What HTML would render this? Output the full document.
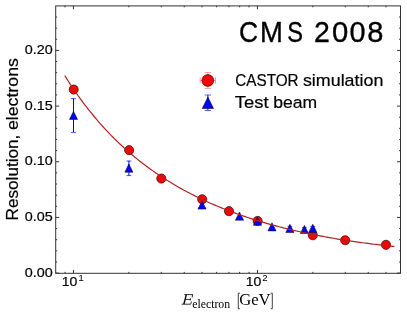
<!DOCTYPE html><html><head><meta charset="utf-8"><style>html,body{margin:0;padding:0;background:#fff;width:407px;height:315px;overflow:hidden}svg{display:block;will-change:transform}text{font-family:"Liberation Sans",sans-serif;fill:#000}.s{font-family:"Liberation Serif",serif}</style></head><body>
<svg width="407" height="315" viewBox="0 0 407 315">
<rect x="55.7" y="5.9" width="344.8" height="267.40000000000003" fill="none" stroke="#333" stroke-width="1"/>
<path d="M73.45 273.3v-3.4M73.45 5.9v3.4M257.45 273.3v-3.4M257.45 5.9v3.4M65.03 273.3v-1.4M65.03 5.9v1.4M128.84 273.3v-1.4M128.84 5.9v1.4M161.24 273.3v-1.4M161.24 5.9v1.4M184.23 273.3v-1.4M184.23 5.9v1.4M202.06 273.3v-1.4M202.06 5.9v1.4M216.63 273.3v-1.4M216.63 5.9v1.4M228.95 273.3v-1.4M228.95 5.9v1.4M239.62 273.3v-1.4M239.62 5.9v1.4M249.03 273.3v-1.4M249.03 5.9v1.4M312.84 273.3v-1.4M312.84 5.9v1.4M345.24 273.3v-1.4M345.24 5.9v1.4M368.23 273.3v-1.4M368.23 5.9v1.4M386.06 273.3v-1.4M386.06 5.9v1.4M55.7 273.10h3.4M400.5 273.10h-3.4M55.7 261.97h1.4M400.5 261.97h-1.4M55.7 250.83h1.4M400.5 250.83h-1.4M55.7 239.70h1.4M400.5 239.70h-1.4M55.7 228.56h1.4M400.5 228.56h-1.4M55.7 217.43h3.4M400.5 217.43h-3.4M55.7 206.29h1.4M400.5 206.29h-1.4M55.7 195.16h1.4M400.5 195.16h-1.4M55.7 184.02h1.4M400.5 184.02h-1.4M55.7 172.89h1.4M400.5 172.89h-1.4M55.7 161.75h3.4M400.5 161.75h-3.4M55.7 150.62h1.4M400.5 150.62h-1.4M55.7 139.48h1.4M400.5 139.48h-1.4M55.7 128.35h1.4M400.5 128.35h-1.4M55.7 117.21h1.4M400.5 117.21h-1.4M55.7 106.08h3.4M400.5 106.08h-3.4M55.7 94.94h1.4M400.5 94.94h-1.4M55.7 83.81h1.4M400.5 83.81h-1.4M55.7 72.67h1.4M400.5 72.67h-1.4M55.7 61.54h1.4M400.5 61.54h-1.4M55.7 50.40h3.4M400.5 50.40h-3.4M55.7 39.27h1.4M400.5 39.27h-1.4M55.7 28.13h1.4M400.5 28.13h-1.4M55.7 17.00h1.4M400.5 17.00h-1.4" stroke="#333" stroke-width="1" fill="none"/>
<circle cx="73.70" cy="89.55" r="4.6" fill="#f00" stroke="#000" stroke-width="0.6"/>
<circle cx="129.15" cy="150.15" r="4.6" fill="#f00" stroke="#000" stroke-width="0.6"/>
<circle cx="161.30" cy="178.55" r="4.6" fill="#f00" stroke="#000" stroke-width="0.6"/>
<circle cx="202.20" cy="199.25" r="4.6" fill="#f00" stroke="#000" stroke-width="0.6"/>
<circle cx="229.00" cy="211.15" r="4.6" fill="#f00" stroke="#000" stroke-width="0.6"/>
<circle cx="257.60" cy="220.95" r="4.6" fill="#f00" stroke="#000" stroke-width="0.6"/>
<circle cx="312.80" cy="235.25" r="4.6" fill="#f00" stroke="#000" stroke-width="0.6"/>
<circle cx="345.20" cy="240.25" r="4.6" fill="#f00" stroke="#000" stroke-width="0.6"/>
<circle cx="386.00" cy="244.85" r="4.6" fill="#f00" stroke="#000" stroke-width="0.6"/>
<path d="M73.5 98.45V132.15M128.9 160.83V175.37M289.9 226.10V230.70M304.4 227.50V231.50M312.8 226.20V230.40" stroke="#00f" stroke-width="1" fill="none"/>
<path d="M71.1 98.65h4.8M71.1 132.35h4.8M126.5 161.03h4.8M126.5 175.57h4.8M287.5 226.30h4.8M287.5 230.90h4.8M302.0 227.70h4.8M302.0 231.70h4.8M310.40000000000003 226.40h4.8M310.40000000000003 230.60h4.8" stroke="#00f" stroke-opacity="0.7" stroke-width="1" fill="none"/>
<path d="M73.5 111.20L77.60 119.40L69.40 119.40Z" fill="#00f" stroke="#000" stroke-width="0.5"/>
<path d="M128.9 164.00L133.00 172.20L124.80 172.20Z" fill="#00f" stroke="#000" stroke-width="0.5"/>
<path d="M202.0 200.90L206.10 209.10L197.90 209.10Z" fill="#00f" stroke="#000" stroke-width="0.5"/>
<path d="M239.5 212.00L243.60 220.20L235.40 220.20Z" fill="#00f" stroke="#000" stroke-width="0.5"/>
<path d="M257.5 217.10L261.60 225.30L253.40 225.30Z" fill="#00f" stroke="#000" stroke-width="0.5"/>
<path d="M272.0 222.70L276.10 230.90L267.90 230.90Z" fill="#00f" stroke="#000" stroke-width="0.5"/>
<path d="M289.9 224.30L294.00 232.50L285.80 232.50Z" fill="#00f" stroke="#000" stroke-width="0.5"/>
<path d="M304.4 225.40L308.50 233.60L300.30 233.60Z" fill="#00f" stroke="#000" stroke-width="0.5"/>
<path d="M312.8 224.20L316.90 232.40L308.70 232.40Z" fill="#00f" stroke="#000" stroke-width="0.5"/>
<polyline points="64.73,75.54 66.39,78.18 68.04,80.78 69.70,83.34 71.35,85.85 73.01,88.32 74.67,90.75 76.32,93.15 77.98,95.50 79.63,97.81 81.29,100.08 82.95,102.32 84.60,104.52 86.26,106.69 87.91,108.82 89.57,110.91 91.23,112.97 92.88,115.00 94.54,117.00 96.19,118.97 97.85,120.90 99.51,122.80 101.16,124.68 102.82,126.52 104.47,128.34 106.13,130.12 107.79,131.88 109.44,133.62 111.10,135.32 112.75,137.00 114.41,138.66 116.07,140.29 117.72,141.89 119.38,143.47 121.03,145.03 122.69,146.56 124.35,148.07 126.00,149.56 127.66,151.03 129.31,152.47 130.97,153.89 132.63,155.30 134.28,156.68 135.94,158.04 137.59,159.38 139.25,160.70 140.91,162.01 142.56,163.29 144.22,164.56 145.87,165.81 147.53,167.04 149.19,168.25 150.84,169.45 152.50,170.63 154.15,171.79 155.81,172.94 157.47,174.07 159.12,175.18 160.78,176.28 162.43,177.37 164.09,178.44 165.75,179.49 167.40,180.53 169.06,181.56 170.71,182.57 172.37,183.57 174.03,184.55 175.68,185.52 177.34,186.48 178.99,187.43 180.65,188.36 182.31,189.28 183.96,190.19 185.62,191.09 187.27,191.97 188.93,192.84 190.59,193.70 192.24,194.55 193.90,195.39 195.55,196.22 197.21,197.04 198.87,197.84 200.52,198.64 202.18,199.43 203.83,200.20 205.49,200.97 207.15,201.72 208.80,202.47 210.46,203.20 212.11,203.93 213.77,204.65 215.43,205.35 217.08,206.05 218.74,206.74 220.39,207.42 222.05,208.10 223.71,208.76 225.36,209.41 227.02,210.06 228.67,210.70 230.33,211.33 231.99,211.95 233.64,212.57 235.30,213.18 236.95,213.78 238.61,214.37 240.27,214.95 241.92,215.53 243.58,216.10 245.23,216.66 246.89,217.22 248.55,217.77 250.20,218.31 251.86,218.84 253.51,219.37 255.17,219.89 256.83,220.41 258.48,220.92 260.14,221.42 261.79,221.91 263.45,222.40 265.11,222.89 266.76,223.37 268.42,223.84 270.07,224.30 271.73,224.76 273.39,225.22 275.04,225.66 276.70,226.11 278.35,226.54 280.01,226.98 281.67,227.40 283.32,227.82 284.98,228.24 286.63,228.65 288.29,229.05 289.95,229.45 291.60,229.85 293.26,230.24 294.91,230.62 296.57,231.00 298.23,231.38 299.88,231.75 301.54,232.11 303.19,232.47 304.85,232.83 306.51,233.18 308.16,233.53 309.82,233.87 311.47,234.21 313.13,234.55 314.79,234.88 316.44,235.20 318.10,235.52 319.76,235.84 321.41,236.15 323.07,236.46 324.72,236.77 326.38,237.07 328.04,237.36 329.69,237.66 331.35,237.95 333.00,238.23 334.66,238.51 336.32,238.79 337.97,239.07 339.63,239.34 341.28,239.60 342.94,239.87 344.60,240.13 346.25,240.38 347.91,240.64 349.56,240.89 351.22,241.13 352.88,241.37 354.53,241.61 356.19,241.85 357.84,242.08 359.50,242.31 361.16,242.54 362.81,242.76 364.47,242.98 366.12,243.20 367.78,243.42 369.44,243.63 371.09,243.84 372.75,244.04 374.40,244.24 376.06,244.44 377.72,244.64 379.37,244.84 381.03,245.03 382.68,245.22 384.34,245.40 386.00,245.58 387.65,245.77 389.31,245.94 390.96,246.12 392.62,246.29 394.28,246.46" fill="none" stroke="#b22222" stroke-width="1.2"/>
<text stroke="#000" stroke-width="0.2" transform="translate(24.77,276.6) scale(1.0972,1)" font-size="13.1">0.00</text>
<text stroke="#000" stroke-width="0.2" transform="translate(24.77,220.90000000000003) scale(1.0967,1)" font-size="13.1">0.05</text>
<text stroke="#000" stroke-width="0.2" transform="translate(24.77,165.20000000000002) scale(1.0972,1)" font-size="13.1">0.10</text>
<text stroke="#000" stroke-width="0.2" transform="translate(24.77,109.49999999999999) scale(1.0967,1)" font-size="13.1">0.15</text>
<text stroke="#000" stroke-width="0.2" transform="translate(24.77,53.8) scale(1.0972,1)" font-size="13.1">0.20</text>
<text stroke="#000" stroke-width="0.2" transform="translate(61.8,286.4) scale(1.0355,1)" font-size="13.6">10</text>
<text transform="translate(78.17,280.9) scale(1.0762,1)" font-size="9.4">1</text>
<text stroke="#000" stroke-width="0.2" transform="translate(245.7,286.4) scale(1.0355,1)" font-size="13.6">10</text>
<text transform="translate(262.16,280.9) scale(1.023,1)" font-size="9.4">2</text>
<text class="s" transform="translate(192.25,307.6) scale(1.0232,1)" font-size="11.5">electron</text>
<text class="s" transform="translate(239.24,305.3) scale(1.0199,1)" font-size="16.3">GeV</text>
<text stroke="#000" stroke-width="0.35" transform="translate(238.91,42.0) scale(0.9058,1)" font-size="29.2">C</text>
<text stroke="#000" stroke-width="0.35" transform="translate(260.1,42.0) scale(0.941,1)" font-size="29.2">M</text>
<text stroke="#000" stroke-width="0.35" transform="translate(287.29,42.0) scale(0.8081,1)" font-size="29.2">S</text>
<text stroke="#000" stroke-width="0.35" transform="translate(313.93,42.0) scale(0.9828,1)" font-size="29.0">2</text>
<text stroke="#000" stroke-width="0.35" transform="translate(331.95,42.0) scale(1.0095,1)" font-size="29.0">0</text>
<text stroke="#000" stroke-width="0.35" transform="translate(349.47,42.0) scale(0.9948,1)" font-size="29.0">0</text>
<text stroke="#000" stroke-width="0.35" transform="translate(367.24,42.0) scale(1.0013,1)" font-size="29.0">8</text>
<text stroke="#000" stroke-width="0.2" transform="translate(235.28,86.0) scale(0.9486,1)" font-size="16.1">CASTOR</text>
<text stroke="#000" stroke-width="0.2" transform="translate(302.92,86.0) scale(1.1105,1)" font-size="16.1">simulation</text>
<text stroke="#000" stroke-width="0.2" transform="translate(234.83,108.0) scale(1.1443,1)" font-size="16.1">Test</text>
<text stroke="#000" stroke-width="0.2" transform="translate(273.31,108.0) scale(1.0921,1)" font-size="16.1">beam</text>
<text stroke="#000" stroke-width="0.2" transform="translate(17.8,220.47) rotate(-90) scale(1.0864,1)" font-size="15.8">Resolution,</text>
<text stroke="#000" stroke-width="0.2" transform="translate(17.8,130.05) rotate(-90) scale(1.1221,1)" font-size="15.8">electrons</text>
<path d="M184.3 294.6H192.6M192.6 294.4L192.2 297.4M185.0 299.4H190.4M190.6 298.3L190.2 300.5M181.6 304.2H190.6M190.6 304.2L191.6 301.5" stroke="#000" stroke-width="0.8" fill="none"/>
<path d="M186.3 294.6L183.9 304.2" stroke="#000" stroke-width="1.4" fill="none"/>
<path d="M239.9 293.2H238.3V308.7H239.9M270.7 293.2H272.3V308.7H270.7" stroke="#000" stroke-width="0.75" fill="none"/>
<path d="M207.8 72.5V88.4M204.7 72.5h6.3M204.7 88.4h6.3M200.2 80.5H215.5M200.2 77.3v6.4M215.5 77.3v6.4" stroke="#f00" stroke-width="0.5" stroke-opacity="0.75" fill="none"/>
<circle cx="207.8" cy="80.5" r="5.9" fill="#f00" stroke="#000" stroke-width="0.6"/>
<path d="M207.9 94.9V110.4" stroke="#00f" stroke-width="1" fill="none"/>
<path d="M204.7 95.0h6.3M204.7 110.5h6.3" stroke="#00f" stroke-width="1" stroke-opacity="0.6" fill="none"/>
<path d="M207.9 97.1L213.6 108.5L202.2 108.5Z" fill="#00f" stroke="#000" stroke-width="0.5"/>
</svg></body></html>
